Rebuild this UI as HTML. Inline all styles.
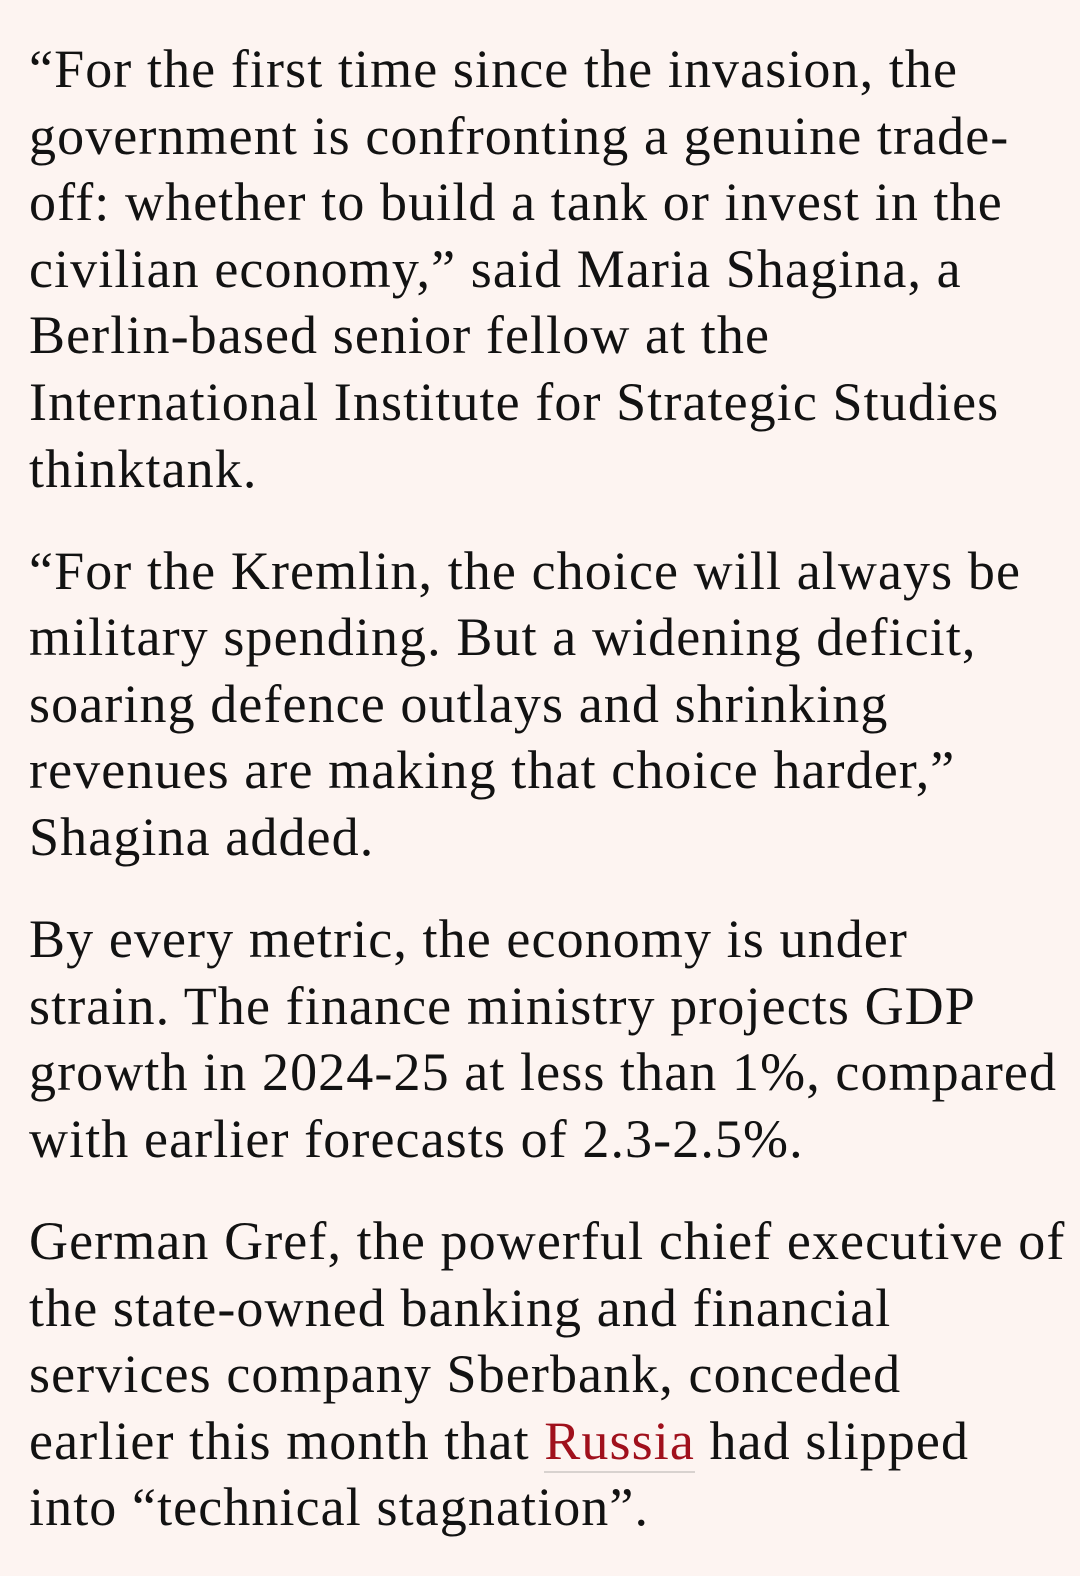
<!DOCTYPE html>
<html><head><meta charset="utf-8"><style>
html,body{margin:0;padding:0;background:#fdf4f1;width:1080px;height:1552px;overflow:hidden}
body{font-family:"Liberation Serif",serif;font-size:54px;letter-spacing:1.1px;color:#121212}
.wrap{position:absolute;left:29px;top:36px}
p{margin:0 0 35.5px 0;line-height:66.6px;white-space:nowrap}
a{color:#a0101c;text-decoration:none;border-bottom:2px solid #d8d2cf}
</style></head><body>
<div class="wrap">
<p>“For the first time since the invasion, the<br>government is confronting a genuine trade-<br>off: whether to build a tank or invest in the<br>civilian economy,” said Maria Shagina, a<br>Berlin-based senior fellow at the<br>International Institute for Strategic Studies<br>thinktank.</p>
<p>“For the Kremlin, the choice will always be<br>military spending. But a widening deficit,<br>soaring defence outlays and shrinking<br>revenues are making that choice harder,”<br>Shagina added.</p>
<p>By every metric, the economy is under<br>strain. The finance ministry projects GDP<br>growth in 2024-25 at less than 1%, compared<br>with earlier forecasts of 2.3-2.5%.</p>
<p>German Gref, the powerful chief executive of<br>the state-owned banking and financial<br>services company Sberbank, conceded<br>earlier this month that <a href="#">Russia</a> had slipped<br>into “technical stagnation”.</p>
</div>
</body></html>
